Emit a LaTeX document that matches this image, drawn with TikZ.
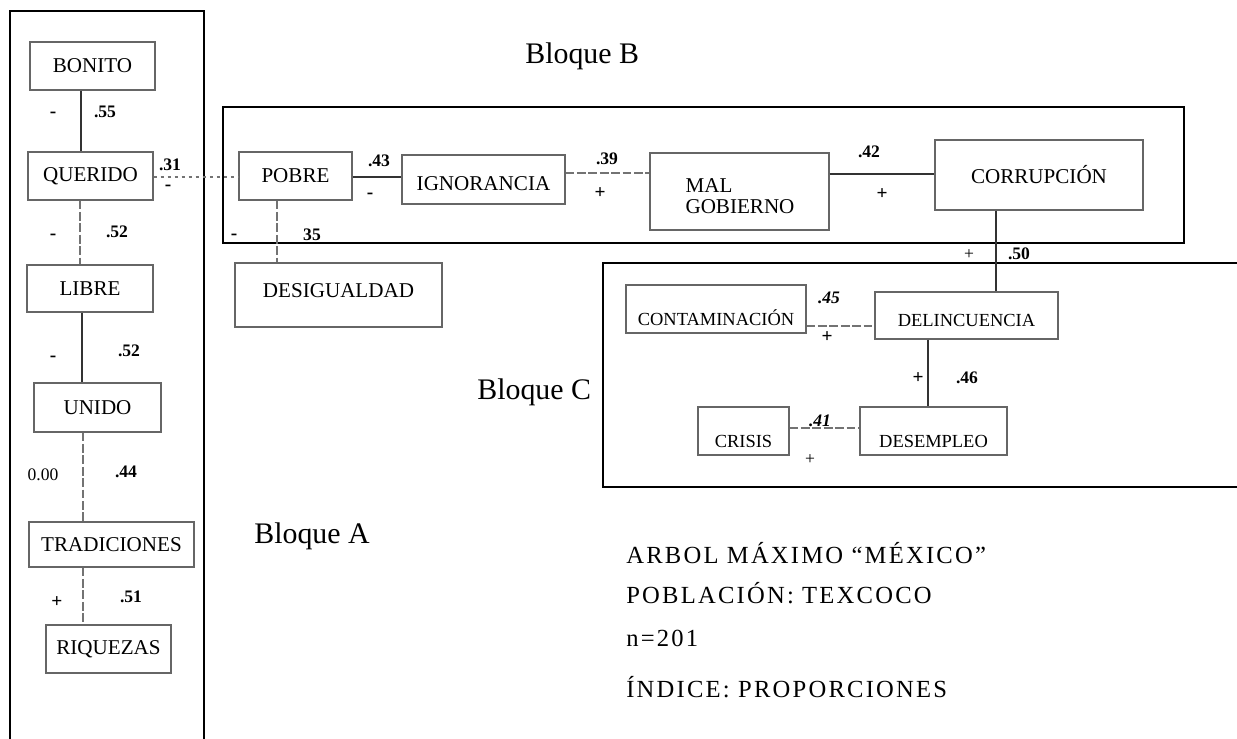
\documentclass[tikz,border=0pt]{standalone}
\usepackage{fontspec}
\setmainfont{Liberation Serif}
\begin{document}
\begin{tikzpicture}[x=0.02cm,y=-0.02cm,
  blk/.style={draw=black,line width=1.2pt},
  sz/.style args={#1/#2}{minimum width=#1*0.02cm,minimum height=#2*0.02cm},
  box/.style={draw=black!60,line width=0.6pt,inner sep=0pt,font=\fontsize{12}{13}\selectfont},
  boxc/.style={box,font=\fontsize{10.5}{12}\selectfont},
  drop/.style={text height=#1,text depth=0pt},
  lbl/.style={inner sep=0pt,font=\fontsize{12}{12}\selectfont},
  conn/.style={draw=black!80,line width=0.6pt},
  connd/.style={draw=black!55,line width=0.6pt,dash pattern=on 5pt off 1.5pt},
  num/.style={inner sep=0pt,font=\bfseries\fontsize{10}{12}\selectfont},
  sgn/.style={inner sep=0pt,font=\bfseries\fontsize{11}{12}\selectfont},
  blq/.style={inner sep=0pt,anchor=base west,font=\fontsize{17}{20}\selectfont},
  info/.style={inner sep=0pt,anchor=base west,font=\fontsize{14}{16}\selectfont\addfontfeature{LetterSpace=9}}]
\useasboundingbox (0,0) rectangle (1237,739);
\fill[white] (0,0) rectangle (1237,739);

% block outlines
\draw[blk] (10,739) -- (10,11) -- (204,11) -- (204,739);
\draw[blk] (223,107) rectangle (1184,243);
\draw[blk] (1237,263) -- (603,263) -- (603,487) -- (1237,487);

% block titles
\node[blq] (tB) at (525,64) {Bloque B};
\node[blq] (tC) at (477,400) {Bloque C};
\node[blq] (tA) at (254,543) {Bloque A};

% Block A boxes
\node[box,sz=125/48] (bonito) at (92.5,66) {BONITO};
\node[box,sz=125/48] (querido) at (90.5,176) {QUERIDO};
\node[box,sz=126/47] (libre) at (90,288.5) {LIBRE};
\node[box,sz=127/49] (unido) at (97.5,407.5) {UNIDO};
\node[box,sz=165/45] (trad) at (111.5,544.5) {TRADICIONES};
\node[box,sz=125/48] (riq) at (108.5,649) {RIQUEZAS};

% Block B boxes
\node[box,sz=113/48] (pobre) at (295.5,176) {POBRE};
\node[box,sz=163/49,drop=12pt] (ign) at (483.5,179.5) {IGNORANCIA};
\node[box,sz=179/77] (malgob) at (739.5,191.5) {};
\node[lbl,align=left] (malgobt) at (740,196) {MAL\\GOBIERNO};
\node[box,sz=208/70] (corr) at (1039,175) {CORRUPCIÓN};
\node[box,sz=207/64,text height=8pt,text depth=5.6pt] (desig) at (338.5,295) {DESIGUALDAD};

% Block C boxes
\node[boxc,sz=180/48,drop=19pt] (contam) at (716,309) {CONTAMINACIÓN};
\node[boxc,sz=183/47,drop=12pt] (delinc) at (966.5,315.5) {DELINCUENCIA};
\node[boxc,sz=91/48,drop=19pt] (crisis) at (743.5,431) {CRISIS};
\node[boxc,sz=147/48,drop=19pt] (desemp) at (933.5,431) {DESEMPLEO};

% connector guide coordinates
\coordinate (xa1) at (81,0);
\coordinate (xa2) at (80,0);
\coordinate (xa3) at (82,0);
\coordinate (xa4) at (83,0);
\coordinate (xp) at (277,0);
\coordinate (xc) at (996,0);
\coordinate (xd) at (928,0);
\coordinate (y1) at (0,177);
\coordinate (y2) at (0,173);
\coordinate (y3) at (0,174);
\coordinate (y4) at (0,326);
\coordinate (y5) at (0,428);

% connectors
\draw[conn] (bonito.south -| xa1) -- (querido.north -| xa1);
\draw[connd] (querido.south -| xa2) -- (libre.north -| xa2);
\draw[conn] (libre.south -| xa3) -- (unido.north -| xa3);
\draw[connd] (unido.south -| xa4) -- (trad.north -| xa4);
\draw[connd] (trad.south -| xa4) -- (riq.north -| xa4);
\draw[connd,dash pattern=on 2pt off 2pt] (querido.east |- y1) -- (pobre.west |- y1);
\draw[conn] (pobre.east |- y1) -- (ign.west |- y1);
\draw[connd] (ign.east |- y2) -- (malgob.west |- y2);
\draw[conn] (malgob.east |- y3) -- (corr.west |- y3);
\draw[connd] (pobre.south -| xp) -- (desig.north -| xp);
\draw[conn] (corr.south -| xc) -- (delinc.north -| xc);
\draw[connd] (contam.east |- y4) -- (delinc.west |- y4);
\draw[conn] (delinc.south -| xd) -- (desemp.north -| xd);
\draw[connd] (crisis.east |- y5) -- (desemp.west |- y5);

% labels block A
\node[num] (n55) at (105,112) {.55};
\node[sgn] (s55) at (53,115) {-};
\node[num] (n31) at (170,165) {.31};
\node[sgn] (s31) at (168,188) {-};
\node[num] (n52a) at (117,232) {.52};
\node[sgn] (s52a) at (53,237) {-};
\node[num] (n52b) at (129,351) {.52};
\node[sgn] (s52b) at (53,359) {-};
\node[inner sep=0pt,font=\fontsize{10}{12}\selectfont] (n000) at (43,475) {0.00};
\node[num] (n44) at (126,472) {.44};
\node[sgn] (s51) at (57,602) {+};
\node[num] (n51) at (131,597) {.51};

% labels block B
\node[sgn] (s35) at (234,237) {-};
\node[num] (n35) at (312,235) {35};
\node[num] (n43) at (379,161) {.43};
\node[sgn] (s43) at (370,196) {-};
\node[num] (n39) at (607,159) {.39};
\node[sgn] (s39) at (600,193) {+};
\node[num] (n42) at (869,152) {.42};
\node[sgn] (s42) at (882,194) {+};
\node[sgn,font=\fontsize{10}{12}\selectfont] (s50) at (969,255) {+};
\node[num] (n50) at (1019,254) {.50};

% labels block C
\node[num,font=\bfseries\itshape\fontsize{10}{12}\selectfont] (n45) at (829,298) {.45};
\node[sgn] (s45) at (827,337) {+};
\node[sgn] (s46) at (918,378) {+};
\node[num] (n46) at (967,378) {.46};
\node[num,font=\bfseries\itshape\fontsize{10}{12}\selectfont] (n41) at (820,421) {.41};
\node[inner sep=0pt,font=\fontsize{10}{12}\selectfont] (s41) at (810,460) {+};

% info text
\node[info] (i1) at (626,563) {ARBOL MÁXIMO “MÉXICO”};
\node[info] (i2) at (626,603) {POBLACIÓN: TEXCOCO};
\node[info] (i3) at (626,646) {n=201};
\node[info] (i4) at (626,697) {ÍNDICE: PROPORCIONES};
\end{tikzpicture}
\end{document}
